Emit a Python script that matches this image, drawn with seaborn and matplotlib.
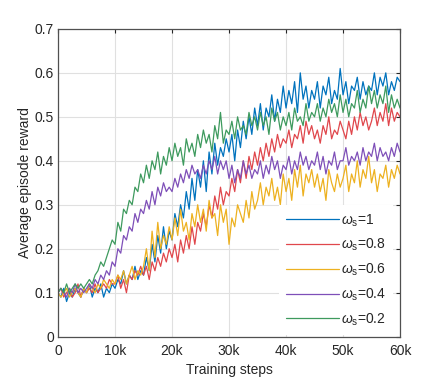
import matplotlib
matplotlib.use("Agg")
import matplotlib.pyplot as plt
import numpy as np
import pandas as pd
import seaborn as sns

# training steps, one sample every 500 steps
steps = np.arange(0, 60001, 500)

w_1 = [0.10, 0.09, 0.11, 0.08, 0.10, 0.09, 0.11, 0.10, 0.09, 0.11,
       0.10, 0.12, 0.09, 0.11, 0.10, 0.12, 0.09, 0.11, 0.10, 0.12,
       0.11, 0.13, 0.12, 0.15, 0.12, 0.14, 0.13, 0.16, 0.13, 0.15,
       0.14, 0.18, 0.15, 0.21, 0.17, 0.23, 0.19, 0.25, 0.20, 0.24,
       0.22, 0.28, 0.25, 0.30, 0.27, 0.33, 0.29, 0.36, 0.31, 0.38,
       0.34, 0.40, 0.33, 0.42, 0.37, 0.44, 0.39, 0.43, 0.41, 0.45,
       0.42, 0.46, 0.40, 0.47, 0.43, 0.49, 0.45, 0.50, 0.46, 0.52,
       0.48, 0.53, 0.47, 0.52, 0.50, 0.55, 0.49, 0.54, 0.51, 0.57,
       0.52, 0.56, 0.53, 0.58, 0.51, 0.60, 0.54, 0.57, 0.52, 0.56,
       0.54, 0.58, 0.52, 0.57, 0.55, 0.59, 0.53, 0.56, 0.54, 0.61,
       0.55, 0.58, 0.53, 0.57, 0.56, 0.59, 0.54, 0.58, 0.55, 0.57,
       0.56, 0.60, 0.55, 0.59, 0.57, 0.60, 0.55, 0.58, 0.56, 0.59,
       0.58]

w_08 = [0.10, 0.11, 0.09, 0.10, 0.11, 0.09, 0.10, 0.12, 0.09, 0.11,
        0.10, 0.11, 0.10, 0.12, 0.10, 0.11, 0.12, 0.11, 0.13, 0.12,
        0.12, 0.14, 0.11, 0.13, 0.10, 0.14, 0.13, 0.15, 0.14, 0.16,
        0.14, 0.16, 0.13, 0.17, 0.15, 0.18, 0.16, 0.19, 0.17, 0.20,
        0.18, 0.21, 0.17, 0.22, 0.19, 0.23, 0.20, 0.25, 0.21, 0.26,
        0.24, 0.28, 0.25, 0.30, 0.27, 0.32, 0.29, 0.34, 0.30, 0.33,
        0.32, 0.36, 0.33, 0.38, 0.35, 0.40, 0.36, 0.41, 0.38, 0.42,
        0.39, 0.43, 0.40, 0.44, 0.41, 0.45, 0.42, 0.46, 0.43, 0.45,
        0.44, 0.47, 0.43, 0.46, 0.45, 0.48, 0.44, 0.49, 0.46, 0.48,
        0.45, 0.47, 0.44, 0.48, 0.46, 0.50, 0.45, 0.47, 0.46, 0.49,
        0.47, 0.45, 0.49, 0.46, 0.50, 0.47, 0.51, 0.48, 0.50, 0.47,
        0.49, 0.52, 0.48, 0.51, 0.49, 0.53, 0.48, 0.52, 0.49, 0.51,
        0.50]

w_06 = [0.10, 0.09, 0.10, 0.11, 0.09, 0.10, 0.11, 0.10, 0.09, 0.11,
        0.10, 0.12, 0.11, 0.10, 0.12, 0.11, 0.13, 0.12, 0.11, 0.13,
        0.12, 0.14, 0.13, 0.15, 0.12, 0.14, 0.16, 0.13, 0.15, 0.14,
        0.16, 0.20, 0.15, 0.24, 0.18, 0.26, 0.20, 0.23, 0.21, 0.25,
        0.22, 0.27, 0.23, 0.29, 0.24, 0.26, 0.22, 0.28, 0.25, 0.30,
        0.26, 0.29, 0.24, 0.31, 0.27, 0.28, 0.23, 0.30, 0.26, 0.29,
        0.21, 0.27, 0.25, 0.30, 0.28, 0.26, 0.31, 0.27, 0.33, 0.29,
        0.31, 0.35, 0.30, 0.34, 0.32, 0.36, 0.31, 0.34, 0.30, 0.37,
        0.33, 0.36, 0.31, 0.38, 0.34, 0.39, 0.32, 0.37, 0.35, 0.38,
        0.34, 0.37, 0.33, 0.36, 0.31, 0.38, 0.35, 0.33, 0.37, 0.34,
        0.36, 0.39, 0.33, 0.37, 0.35, 0.40, 0.34, 0.38, 0.36, 0.41,
        0.35, 0.38, 0.33, 0.37, 0.36, 0.39, 0.34, 0.38, 0.36, 0.39,
        0.37]

w_04 = [0.10, 0.11, 0.10, 0.09, 0.11, 0.10, 0.12, 0.10, 0.11, 0.10,
        0.11, 0.12, 0.11, 0.13, 0.12, 0.14, 0.13, 0.15, 0.14, 0.17,
        0.16, 0.20, 0.19, 0.23, 0.22, 0.25, 0.24, 0.28, 0.26, 0.29,
        0.28, 0.31, 0.29, 0.33, 0.30, 0.34, 0.32, 0.35, 0.33, 0.34,
        0.33, 0.36, 0.34, 0.37, 0.35, 0.38, 0.36, 0.39, 0.37, 0.38,
        0.36, 0.39, 0.37, 0.40, 0.38, 0.41, 0.37, 0.40, 0.38, 0.40,
        0.36, 0.39, 0.35, 0.38, 0.36, 0.40, 0.37, 0.39, 0.36, 0.38,
        0.37, 0.40, 0.36, 0.39, 0.37, 0.41, 0.38, 0.40, 0.36, 0.39,
        0.38, 0.41, 0.37, 0.40, 0.38, 0.42, 0.39, 0.41, 0.38, 0.40,
        0.39, 0.42, 0.38, 0.41, 0.37, 0.40, 0.39, 0.42, 0.38, 0.40,
        0.40, 0.43, 0.39, 0.41, 0.40, 0.42, 0.39, 0.43, 0.40, 0.42,
        0.41, 0.44, 0.40, 0.43, 0.41, 0.42, 0.40, 0.43, 0.41, 0.44,
        0.42]

w_02 = [0.10, 0.11, 0.10, 0.12, 0.10, 0.11, 0.12, 0.11, 0.12, 0.11,
        0.12, 0.13, 0.12, 0.14, 0.15, 0.17, 0.16, 0.18, 0.20, 0.22,
        0.21, 0.26, 0.24, 0.29, 0.28, 0.31, 0.30, 0.34, 0.33, 0.37,
        0.35, 0.39, 0.36, 0.40, 0.38, 0.42, 0.37, 0.41, 0.39, 0.43,
        0.40, 0.44, 0.41, 0.43, 0.39, 0.45, 0.42, 0.44, 0.41, 0.46,
        0.43, 0.47, 0.44, 0.46, 0.42, 0.48, 0.45, 0.51, 0.44, 0.47,
        0.46, 0.49, 0.45, 0.50, 0.47, 0.48, 0.46, 0.51, 0.48, 0.50,
        0.47, 0.51, 0.48, 0.50, 0.46, 0.52, 0.49, 0.51, 0.47, 0.50,
        0.48, 0.51, 0.47, 0.52, 0.49, 0.50, 0.48, 0.53, 0.49, 0.51,
        0.50, 0.53, 0.49, 0.52, 0.50, 0.54, 0.51, 0.53, 0.50, 0.55,
        0.51, 0.54, 0.50, 0.53, 0.52, 0.56, 0.51, 0.54, 0.52, 0.57,
        0.53, 0.56, 0.52, 0.55, 0.53, 0.57, 0.51, 0.55, 0.52, 0.54,
        0.52]

labels = [r'$\omega_\mathrm{s}$=1', r'$\omega_\mathrm{s}$=0.8', r'$\omega_\mathrm{s}$=0.6',
          r'$\omega_\mathrm{s}$=0.4', r'$\omega_\mathrm{s}$=0.2']
colors = ['#0072BD', '#E0474C', '#EDB120', '#7E4FB8', '#3E9A5E']
xticks = [0, 10000, 20000, 30000, 40000, 50000, 60000]
xticklabels = ['0', '10k', '20k', '30k', '40k', '50k', '60k']

series = [w_1, w_08, w_06, w_04, w_02]
df = pd.concat([pd.DataFrame({'step': steps, 'reward': s, 'w': lab})
                for s, lab in zip(series, labels)], ignore_index=True)

sns.set_style('whitegrid')
plt.rcParams['font.family'] = ['Liberation Sans', 'DejaVu Sans']
plt.rcParams['mathtext.fontset'] = 'custom'
plt.rcParams['mathtext.rm'] = 'Liberation Sans'
plt.rcParams['mathtext.it'] = 'Liberation Sans:italic'

fig = plt.figure(figsize=(4.43, 3.8), dpi=100)
ax = fig.add_axes([0.131, 0.114, 0.772, 0.81])

sns.lineplot(data=df, x='step', y='reward', hue='w', palette=colors,
             hue_order=labels, linewidth=0.9, ax=ax, legend=False)

ax.set_xlim(0, 60000)
ax.set_ylim(0, 0.7)
ax.set_xticks(xticks)
ax.set_xticklabels(xticklabels)
ax.set_yticks(np.arange(0, 0.71, 0.1))
ax.set_yticklabels(['0', '0.1', '0.2', '0.3', '0.4', '0.5', '0.6', '0.7'])
ax.grid(True, color='#e0e0e0', linewidth=0.8)
ax.tick_params(direction='in', length=3, labelsize=10, colors='#262626',
               top=True, right=True)
ax.tick_params(axis='x', pad=5)
ax.tick_params(axis='y', pad=3)
for sp in ax.spines.values():
    sp.set_visible(True)
    sp.set_color('#505050')
    sp.set_linewidth(0.9)

ax.set_xlabel('Training steps', fontsize=10, labelpad=4)
ax.set_ylabel('Average episode reward', fontsize=10, labelpad=2)

handles = [plt.Line2D([], [], color=c, linewidth=0.9) for c in colors]
leg = ax.legend(handles, labels, loc='lower left', bbox_to_anchor=(0.64, 0.0),
                borderaxespad=0.15, fontsize=10, handlelength=3.8, handletextpad=0.15,
                labelspacing=0.6, frameon=True, fancybox=False, framealpha=1.0,
                borderpad=0.5)
leg.get_frame().set_edgecolor('none')
leg.get_frame().set_facecolor('white')

fig.savefig('out.png', dpi=100)
